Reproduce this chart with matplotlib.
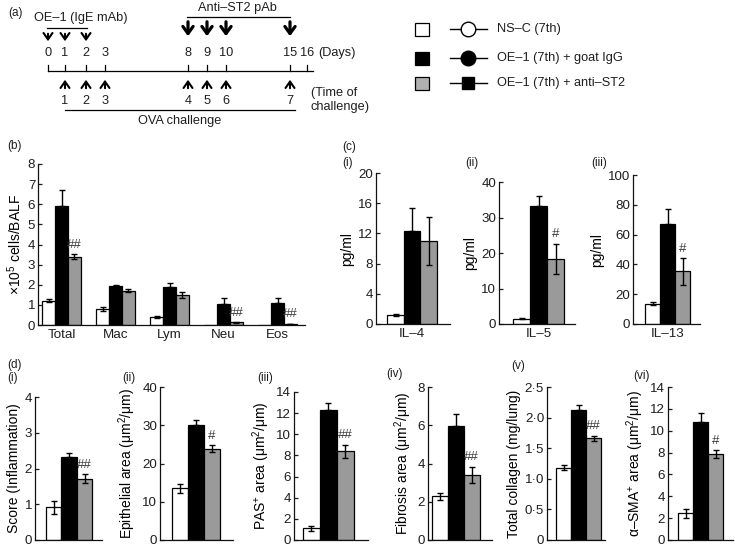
import numpy as np
import matplotlib
matplotlib.use('Agg')
import matplotlib.pyplot as plt
from matplotlib.patches import Rectangle
from matplotlib.lines import Line2D

plt.rcParams['font.family'] = ['Liberation Sans', 'DejaVu Sans']
plt.rcParams['mathtext.fontset'] = 'custom'
plt.rcParams['mathtext.rm'] = 'Liberation Sans'
plt.rcParams['mathtext.it'] = 'Liberation Sans:italic'
plt.rcParams['font.size'] = 9.2
TXT = '#1e1e1e'
plt.rcParams['text.color'] = TXT

# ---------------- data ----------------
group_names = ['NS–C (7th)', 'OE–1 (7th) + goat IgG', 'OE–1 (7th) + anti–ST2']

# (a) schedule
day_labels = [0, 1, 2, 3, 8, 9, 10, 15, 16]
oe1_days = [0, 1, 2]
anti_st2_days = [8, 9, 10, 15]
challenge_days = [1, 2, 3, 8, 9, 10, 15]
challenge_numbers = [1, 2, 3, 4, 5, 6, 7]

# (b) BALF cells
b_cats = ['Total', 'Mac', 'Lym', 'Neu', 'Eos']
b_nsc = [1.2, 0.8, 0.4, 0.0, 0.02]
b_nsc_err = [0.08, 0.1, 0.03, 0.0, 0.0]
b_igg = [5.93, 1.95, 1.9, 1.05, 1.08]
b_igg_err = [0.77, 0.04, 0.2, 0.3, 0.25]
b_st2 = [3.4, 1.7, 1.48, 0.13, 0.06]
b_st2_err = [0.12, 0.07, 0.15, 0.02, 0.01]
b_sig = ['##', '', '', '##', '##']

# (c) cytokines [NS-C, goat IgG, anti-ST2]
il4 = [1.2, 12.3, 11.0]
il4_err = [0.15, 3.1, 3.2]
il5 = [1.5, 33.1, 18.4]
il5_err = [0.2, 3.0, 4.2]
il13 = [13.5, 66.8, 35.3]
il13_err = [1.0, 10.2, 9.0]
c_names = ['IL–4', 'IL–5', 'IL–13']
c_sig = ['', '#', '#']

# (d) histology
inflam = [0.92, 2.32, 1.72]
inflam_err = [0.18, 0.12, 0.12]
epith = [13.5, 30.1, 23.9]
epith_err = [1.2, 1.4, 0.9]
pas = [1.1, 12.3, 8.4]
pas_err = [0.22, 0.65, 0.6]
fibrosis = [2.28, 5.95, 3.42]
fibrosis_err = [0.18, 0.65, 0.42]
collagen = [1.18, 2.13, 1.66]
collagen_err = [0.04, 0.08, 0.04]
sma = [2.45, 10.8, 7.85]
sma_err = [0.42, 0.8, 0.35]
d_sig = ['##', '#', '##', '##', '##', '#']

# ---------------- layout helpers ----------------
W, H = 735, 548
fig = plt.figure(figsize=(W / 100, H / 100), dpi=100)
COLORS = ['white', 'black', '#9a9a9a']
TICK_FS = 9.6
LAB_FS = 10


def rect(l, r, top, bot):
    return [l / W, 1 - bot / H, (r - l) / W, (bot - top) / H]


def style_axis(ax):
    for s in ['top', 'right']:
        ax.spines[s].set_visible(False)
    for s in ['left', 'bottom']:
        ax.spines[s].set_linewidth(0.9)
        ax.spines[s].set_color('#111111')
    ax.tick_params(axis='y', direction='in', length=3, width=0.9, pad=2,
                   labelsize=TICK_FS, colors=TXT)
    ax.tick_params(axis='x', length=0, pad=3, labelsize=TICK_FS, colors=TXT)
    ax.set_facecolor('none')


def draw_group(ax, xc, vals, errs, width, sig):
    for k in range(3):
        x = xc + (k - 1) * width
        ax.bar(x, vals[k], width=width, color=COLORS[k], edgecolor='black',
               linewidth=0.9, zorder=2)
        if errs[k] > 0:
            lo = 0 if k == 1 else errs[k]
            ax.errorbar(x, vals[k], yerr=[[lo], [errs[k]]], fmt='none',
                        ecolor='black', elinewidth=1.0, capsize=2.2,
                        capthick=1.0, zorder=3)
    if sig:
        x = xc + width
        ax.annotate(sig, (x, vals[2] + errs[2]), xytext=(0, 2.5),
                    textcoords='offset points', ha='center', va='bottom',
                    fontsize=9.5, color='#3a3a3a')


# ---------------- overlay (panel a, legend, labels) ----------------
ax0 = fig.add_axes([0, 0, 1, 1])
ax0.set_xlim(0, W)
ax0.set_ylim(H, 0)
ax0.axis('off')

day_px = [48, 65, 86, 105, 188, 207, 226, 290, 307]
dx = dict(zip(day_labels, day_px))

ax0.text(8, 13, '(a)', fontsize=8.5, va='center')
ax0.text(81, 18, 'OE–1 (IgE mAb)', ha='center', va='center')
ax0.plot([47, 87], [28, 28], color='k', lw=0.9)
for d in oe1_days:
    ax0.annotate('', xy=(dx[d], 44), xytext=(dx[d], 31),
                 arrowprops=dict(arrowstyle='->,head_length=0.5,head_width=0.35',
                                 lw=1.5, color='k'))
ax0.text(237, 8, 'Anti–ST2 pAb', ha='center', va='center')
ax0.plot([187, 290], [17, 17], color='k', lw=0.9)
for d in anti_st2_days:
    ax0.annotate('', xy=(dx[d], 39), xytext=(dx[d], 19),
                 arrowprops=dict(arrowstyle='->,head_length=0.55,head_width=0.4',
                                 lw=2.3, color='k'))
for d in day_labels:
    ax0.text(dx[d], 53, str(d), ha='center', va='center')
    ax0.plot([dx[d], dx[d]], [65, 71], color='k', lw=0.9)
ax0.text(318, 53, '(Days)', ha='left', va='center')
ax0.plot([48, 313], [71, 71], color='k', lw=0.9)
for d, n in zip(challenge_days, challenge_numbers):
    ax0.annotate('', xy=(dx[d], 77), xytext=(dx[d], 91),
                 arrowprops=dict(arrowstyle='->,head_length=0.5,head_width=0.35',
                                 lw=1.5, color='k'))
    ax0.text(dx[d], 101, str(n), ha='center', va='center')
ax0.text(311, 100, '(Time of\nchallenge)', ha='left', va='center',
         linespacing=1.15)
ax0.plot([65, 295], [109.5, 109.5], color='k', lw=0.9)
ax0.text(180, 121, 'OVA challenge', ha='center', va='center')

# legend
leg_y = [29, 58, 83]
leg_fill = ['white', 'black', '#b0b0b0']
leg_marker = ['o', 'o', 's']
leg_mfc = ['white', 'black', 'black']
leg_ms = [10.5, 10.5, 8.5]
for k in range(3):
    ax0.add_patch(Rectangle((415, leg_y[k] - 6.5), 14, 13, facecolor=leg_fill[k],
                            edgecolor='black', lw=0.9))
    ax0.plot([450, 487], [leg_y[k], leg_y[k]], color='k', lw=1.0)
    ax0.plot([468], [leg_y[k]], marker=leg_marker[k], ms=leg_ms[k],
             mfc=leg_mfc[k], mec='black', mew=1.0)
    ax0.text(497, leg_y[k], group_names[k], ha='left', va='center')

# panel labels
for txt, x, y in [('(b)', 7, 146), ('(c)', 342, 147), ('(i)', 342, 163),
                  ('(ii)', 465, 163), ('(iii)', 591, 163), ('(d)', 7, 365),
                  ('(i)', 7, 378), ('(ii)', 122, 378), ('(iii)', 257, 378),
                  ('(iv)', 386, 374), ('(v)', 511, 366), ('(vi)', 633, 376)]:
    ax0.text(x, y, txt, fontsize=8.5, ha='left', va='center')

# ---------------- panel (b) ----------------
b_l, b_r, b_c0, b_sp, b_w = 38, 305, 61.5, 54.0, 12.7
axb = fig.add_axes(rect(b_l, b_r, 164, 325))
style_axis(axb)
for i in range(len(b_cats)):
    draw_group(axb, i, [b_nsc[i], b_igg[i], b_st2[i]],
               [b_nsc_err[i], b_igg_err[i], b_st2_err[i]], b_w / b_sp, b_sig[i])
axb.set_xlim((b_l - b_c0) / b_sp, (b_r - b_c0) / b_sp)
axb.set_ylim(0, 8)
axb.set_yticks(range(0, 9))
axb.set_xticks(range(len(b_cats)))
axb.set_xticklabels(b_cats)
axb.set_ylabel('×10$^{5}$ cells/BALF', fontsize=LAB_FS, labelpad=3)

# ---------------- panel (c) ----------------
c_geom = [(376, 450, 412, 16.5, 173), (499, 575, 538.5, 17, 182),
          (633, 700, 667.5, 15, 175)]
c_vals = [il4, il5, il13]
c_errs = [il4_err, il5_err, il13_err]
c_ticks = [range(0, 21, 4), range(0, 41, 10), range(0, 101, 20)]
for j in range(3):
    l, r, cen, w, top = c_geom[j]
    ax = fig.add_axes(rect(l, r, top, 324))
    style_axis(ax)
    draw_group(ax, 0, c_vals[j], c_errs[j], 1.0, c_sig[j])
    ax.set_xlim((l - cen) / w, (r - cen) / w)
    ax.set_ylim(0, max(c_ticks[j]))
    ax.set_yticks(list(c_ticks[j]))
    ax.set_xticks([0])
    ax.set_xticklabels([c_names[j]])
    ax.set_ylabel('pg/ml', fontsize=LAB_FS, labelpad=3)

# ---------------- panel (d) ----------------
d_geom = [(35, 102, 69, 15.5, 397), (160, 233, 196, 16, 387),
          (294, 368, 328, 17, 392), (428, 492, 455.5, 16, 387),
          (547, 605, 578.5, 15, 387), (668, 733, 700.5, 15, 387)]
d_vals = [inflam, epith, pas, fibrosis, collagen, sma]
d_errs = [inflam_err, epith_err, pas_err, fibrosis_err, collagen_err, sma_err]
d_ticks = [[0, 1, 2, 3, 4], [0, 10, 20, 30, 40], list(range(0, 15, 2)),
           [0, 2, 4, 6, 8], [0, 0.5, 1.0, 1.5, 2.0, 2.5], list(range(0, 15, 2))]
d_labels = ['Score (Inflammation)', 'Epithelial area (μm$^{2}$/μm)',
            'PAS$^{+}$ area (μm$^{2}$/μm)', 'Fibrosis area (μm$^{2}$/μm)',
            'Total collagen (mg/lung)', 'α–SMA$^{+}$ area (μm$^{2}$/μm)']
for j in range(6):
    l, r, cen, w, top = d_geom[j]
    ax = fig.add_axes(rect(l, r, top, 540))
    style_axis(ax)
    draw_group(ax, 0, d_vals[j], d_errs[j], 1.0, d_sig[j])
    ax.set_xlim((l - cen) / w, (r - cen) / w)
    ax.set_ylim(0, max(d_ticks[j]))
    ax.set_yticks(d_ticks[j])
    if j == 4:
        ax.set_yticklabels(['0'] + [f'{t:.1f}'.replace('.', '·') for t in d_ticks[j][1:]])
    ax.set_xticks([])
    ax.set_ylabel(d_labels[j], fontsize=LAB_FS, labelpad=3)

fig.savefig('out.png', dpi=100)
